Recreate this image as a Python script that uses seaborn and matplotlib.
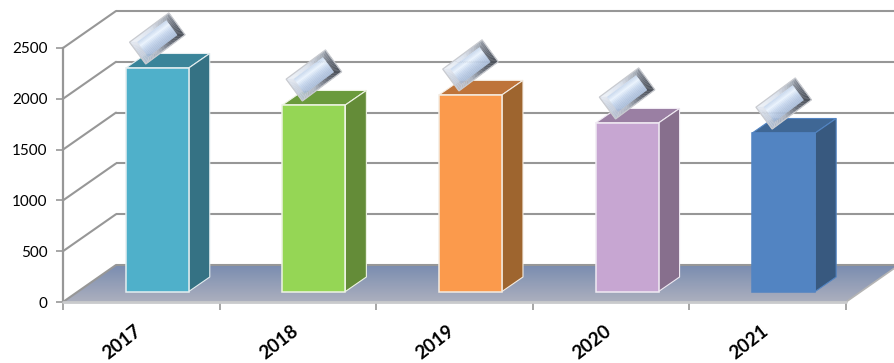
import numpy as np
import pandas as pd
import matplotlib
matplotlib.use("Agg")
import matplotlib.pyplot as plt
from matplotlib.colors import to_rgb
from matplotlib.patches import Polygon
from matplotlib.transforms import Affine2D
import seaborn as sns

years = ["2017", "2018", "2019", "2020", "2021"]
values = [2200, 1836, 1935, 1659, 1560]
front_colors = ["#4FB0CA", "#95D655", "#FB9A4C", "#C7A6D2", "#5284C2"]
top_colors = ["#3A8499", "#6A9A3C", "#BE743A", "#9A7FA3", "#3F6795"]
side_colors = ["#357284", "#648C38", "#9E652F", "#876F8D", "#38597F"]
edge_colors = ["#E4EEF0", "#EEF4E4", "#F4ECE2", "#F0EAF3", "#5284C2"]
y_ticks = [0, 500, 1000, 1500, 2000, 2500]

W, H = 895, 363
GRID = "#979797"
WALL_DX, WALL_DY = 53, 37      # oblique depth of the plot box, in pixels
NEAR_DX, NEAR_DY = 16, 10.5    # front face of a column relative to the box front
BAR_DX, BAR_DY = 21, 14.5      # depth of a column

sns.set_theme(style="white")
plt.rcParams["font.family"] = ["Lato", "DejaVu Sans"]

fig = plt.figure(figsize=(W / 100, H / 100), dpi=100)
ax = fig.add_axes([63 / W, 1 - 302 / H, 783 / W, 254 / H])
df = pd.DataFrame({"year": years, "value": values})

sns.barplot(data=df, x="year", y="value", hue="year", palette=front_colors,
            legend=False, width=0.402, saturation=1, ax=ax, zorder=5)
ax.set_xlim(-0.5, 4.5)
ax.set_ylim(0, 2500)
ax.set_xlabel("")
ax.set_ylabel("")
fig.canvas.draw()


def shifted(dx, dy):
    """Data transform pushed back along the oblique depth axis by pixels."""
    return ax.transData + Affine2D().translate(dx, dy)


def strip(a0, a1, b0, b1, stops, zorder):
    """Quad a0-a1 / b0-b1 shaded in slices from a-side to the b-side along a0->b0."""
    n = 14
    cols = np.array([to_rgb(c) for c in stops])
    pos = np.linspace(0, 1, len(stops))
    for s in range(n):
        f0, f1 = s / n, (s + 1) / n
        col = [np.interp((f0 + f1) / 2, pos, cols[:, ch]) for ch in range(3)]
        ax.add_patch(Polygon([a0 + (b0 - a0) * f0, a1 + (b1 - a1) * f0,
                              a1 + (b1 - a1) * f1, a0 + (b0 - a0) * f1],
                             transform=None, zorder=zorder, facecolor=col,
                             edgecolor=col, lw=0.2, clip_on=False))


# Floor with its vertical gradient, clipped to the parallelogram
x0, x1 = ax.get_xlim()
px = ax.transData.transform([(x0, 0), (x1, 0)])
floor = Polygon([(px[0, 0], px[0, 1]), (px[0, 0] + WALL_DX, px[0, 1] + WALL_DY),
                 (px[1, 0] + WALL_DX, px[1, 1] + WALL_DY), (px[1, 0], px[1, 1])],
                transform=None, facecolor="none", edgecolor="none")
ax.add_patch(floor)
shade = np.linspace(0, 1, 64).reshape(-1, 1, 1)
top_rgb = np.array([122, 140, 176]) / 255
low_rgb = np.array([172, 176, 190]) / 255
grad = ax.imshow(top_rgb + (low_rgb - top_rgb) * shade, aspect="auto",
                 extent=(x0, x1 + 0.4, 0, 364), origin="upper", zorder=1)
grad.set_clip_box(fig.bbox)
grad.set_clip_path(floor)
ax.set_xlim(x0, x1)
ax.set_ylim(0, 2500)

# Back wall and side wall gridlines
for t in y_ticks:
    ax.plot([x0, x1 + 0.32], [t, t], color=GRID, lw=1.5, zorder=2, clip_on=False,
            transform=shifted(WALL_DX, WALL_DY), solid_capstyle="butt")
    p = ax.transData.transform((x0, t))
    ax.plot([p[0], p[0] + WALL_DX], [p[1], p[1] + WALL_DY], color=GRID, lw=1.5,
            transform=None, zorder=2, clip_on=False)
p = ax.transData.transform((x1, 0))
ax.plot([p[0], p[0] + WALL_DX], [p[1], p[1] + WALL_DY], color="#B4B4B4", lw=1.2,
        transform=None, zorder=2, clip_on=False)
ax.plot([x0, x1], [0, 0], color="#C9CACC", lw=2, zorder=3, clip_on=False)

# Columns: front, roof and side faces, then the bevelled tag above each one
for i, patch in enumerate(ax.patches[:len(values)]):
    patch.set_transform(shifted(NEAR_DX, NEAR_DY))
    patch.set_edgecolor(edge_colors[i])
    patch.set_linewidth(1.1)
    patch.set_clip_on(False)
    x_l, w, v = patch.get_x(), patch.get_width(), patch.get_height()
    tl = shifted(NEAR_DX, NEAR_DY).transform((x_l, v))
    br = shifted(NEAR_DX, NEAR_DY).transform((x_l + w, 0))
    tr = shifted(NEAR_DX, NEAR_DY).transform((x_l + w, v))
    d = np.array([BAR_DX, BAR_DY])
    ax.add_patch(Polygon([tl, tr, tr + d, tl + d], transform=None, zorder=4,
                         facecolor=top_colors[i], edgecolor=edge_colors[i],
                         lw=0.8, clip_on=False))
    ax.add_patch(Polygon([br, tr, tr + d, br + d], transform=None, zorder=4,
                         facecolor=side_colors[i], edgecolor=edge_colors[i],
                         lw=0.8, clip_on=False))

    c = (tl + tr) / 2 + np.array([0.0, 29.5])
    ang = np.deg2rad(36.6)
    u = np.array([np.cos(ang), np.sin(ang)])
    n = np.array([-np.sin(ang), np.cos(ang)])
    hl, hs = 24.5, 13.6
    il, ish = hl - 6.5, hs - 4.5
    o = [c - hl * u - hs * n, c + hl * u - hs * n, c + hl * u + hs * n, c - hl * u + hs * n]
    q = [c - il * u - ish * n, c + il * u - ish * n, c + il * u + ish * n, c - il * u + ish * n]

    # lower long side, upper end, upper long side, lower end
    strip(o[0], q[0], o[1], q[1], ["#C6CDD9", "#AEB5C1", "#6C727D", "#4A4F58"], 7)
    strip(o[1], q[1], o[2], q[2], ["#4A4F58", "#666C77", "#8F95A0"], 7)
    strip(o[3], q[3], o[2], q[2], ["#EEF2F8", "#DCE3EE", "#9EA4AE"], 7)
    strip(o[0], q[0], o[3], q[3], ["#BCC6D6", "#CBD3E0", "#E4E9F1"], 7)
    # central face, dark low edge rising to a bright band near the upper edge
    strip(q[0], q[1], q[3], q[2],
          ["#A8BBD8", "#B4C6E0", "#C8D8EE", "#EAF3FD", "#C8D8EE"], 8)
    ax.add_patch(Polygon(o, transform=None, zorder=9, facecolor="none",
                         edgecolor="#C9CBD0", lw=0.9, clip_on=False))

# Axes furniture
sns.despine(ax=ax, top=True, right=True, left=False, bottom=True)
ax.spines["left"].set_color(GRID)
ax.spines["left"].set_linewidth(1.6)
ax.set_yticks(y_ticks)
ax.set_yticklabels([str(t) for t in y_ticks], fontsize=11, color="black")
ax.set_xticks(np.arange(-0.5, 5.0, 1.0))
ax.set_xticklabels([])
ax.tick_params(axis="y", length=5, width=1.2, color=GRID, pad=6, left=True)
ax.tick_params(axis="x", length=6, width=1.2, color=GRID, bottom=True)
for i, year in enumerate(years):
    ax.annotate(year, xy=(i, 0), xycoords="data", xytext=(-19, -40), textcoords="offset pixels",
                rotation=38, ha="center", va="center", rotation_mode="anchor",
                fontsize=13.5, fontweight="bold", color="black", annotation_clip=False)

fig.savefig("out.png", dpi=100, facecolor="white")
